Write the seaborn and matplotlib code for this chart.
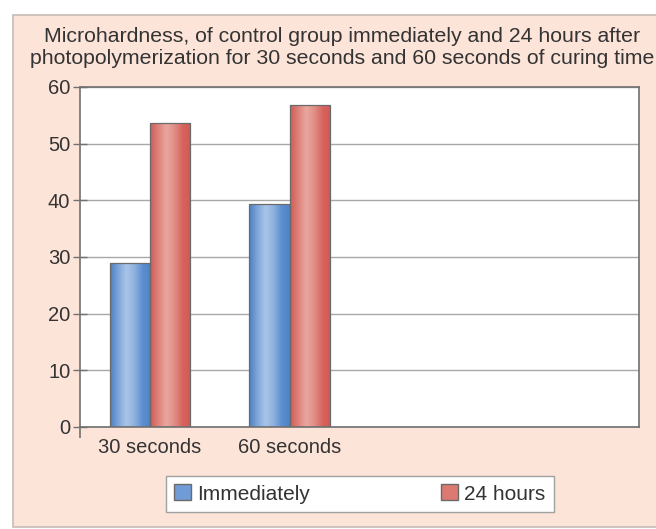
import numpy as np
import pandas as pd
import matplotlib
matplotlib.use("Agg")
import matplotlib.pyplot as plt
import seaborn as sns
from matplotlib.patches import Rectangle, Patch
from matplotlib.colors import LinearSegmentedColormap

# ---- data ----
categories = ["30 seconds", "60 seconds", " ", "  "]
series_names = ["Immediately", "24 hours"]
immediately = [28.9, 39.4]
hours24 = [53.6, 56.8]
title = ("Microhardness, of control group immediately and 24 hours after\n"
         "photopolymerization for 30 seconds and 60 seconds of curing time")
yticks = [0, 10, 20, 30, 40, 50, 60]

rows = []
for c, v in zip(categories[:2], immediately):
    rows.append({"cat": c, "series": series_names[0], "value": v})
for c, v in zip(categories[:2], hours24):
    rows.append({"cat": c, "series": series_names[1], "value": v})
df = pd.DataFrame(rows)

sns.set_theme(style="white")
plt.rcParams["font.family"] = ["Liberation Sans", "DejaVu Sans"]

W, H = 656, 529
fig = plt.figure(figsize=(W / 100, H / 100), dpi=100)
fig.patch.set_facecolor("white")

# peach frame
bg = Rectangle((13 / W, 2 / H), 1 - 13 / W + 0.01, (527 - 15) / H,
               transform=fig.transFigure, facecolor="#fde4d9",
               edgecolor="#c8bcb6", linewidth=1.2, zorder=-10)
fig.patches.append(bg)

ax = fig.add_axes([80 / W, 1 - 427 / H, (639 - 80) / W, (427 - 87) / H])
ax.set_zorder(1)
ax.set_facecolor("white")

blue = "#5d8fd0"
red = "#d8655d"
sns.barplot(data=df, x="cat", y="value", hue="series",
            order=categories, hue_order=series_names,
            palette=[blue, red], width=0.575, ax=ax,
            edgecolor="#6a6a6a", linewidth=0.9, saturation=1, legend=False)

cmaps = {
    blue: LinearSegmentedColormap.from_list("b", ["#4d80c2", "#7ea6da", "#a9c5e8", "#8fb2df", "#5d8fd0", "#4f83c6"]),
    red: LinearSegmentedColormap.from_list("r", ["#cf5c55", "#de837b", "#e9a79f", "#df8e86", "#d8655d", "#cf5a53"]),
}
grad = np.linspace(0, 1, 64).reshape(1, -1)
for cont, col in zip(ax.containers, [blue, red]):
    for p in cont:
        x0, y0 = p.get_x(), p.get_y()
        w, h = p.get_width(), p.get_height()
        if h == 0 or np.isnan(h):
            continue
        im = ax.imshow(grad, cmap=cmaps[col], aspect="auto",
                       extent=(x0, x0 + w, y0, y0 + h), zorder=2)
        im.set_clip_path(p)
        p.set_zorder(3)
        p.set_facecolor("none")

ax.set_xlim(-0.5, 3.5)
ax.set_ylim(0, 60)
ax.set_yticks(yticks)
ax.set_yticklabels([str(t) for t in yticks])
ax.set_xlabel("")
ax.set_ylabel("")
ax.yaxis.grid(True, color="#a8a8a8", linewidth=1.0)
ax.set_axisbelow(True)
for s in ax.spines.values():
    s.set_visible(True)
    s.set_color("#707070")
    s.set_linewidth(1.2)
ax.tick_params(axis="y", direction="inout", length=10, width=1.0, color="#707070",
               labelsize=14.5, labelcolor="#333333", pad=2, left=True)
ax.set_xticks([0, 1])
ax.set_xticklabels(categories[:2])
ax.set_xticks([-0.5], minor=True)
ax.tick_params(axis="x", which="major", length=0, labelsize=14.5,
               labelcolor="#333333", pad=8)
ax.tick_params(axis="x", which="minor", bottom=True, direction="out", length=8,
               width=1.2, color="#707070")

fig.text(0.522, 1 - 47 / H, title, ha="center", va="center", fontsize=15.3,
         color="#333333", linespacing=1.2)

# legend
handles = [Patch(facecolor="#6f9bd6", edgecolor="#6a6a6a"),
           Patch(facecolor="#dc7a72", edgecolor="#6a6a6a")]
leg = fig.legend(handles, series_names, loc="center",
                 bbox_to_anchor=(360 / W, 1 - 494 / H), ncol=2,
                 fontsize=15, frameon=True, fancybox=False, framealpha=1,
                 handlelength=0.8, handleheight=0.8, handletextpad=0.3,
                 columnspacing=6.3, borderpad=0.4)
leg.get_frame().set_edgecolor("#a0a0a0")
leg.get_frame().set_facecolor("white")
leg.get_frame().set_linewidth(1.0)
for t in leg.get_texts():
    t.set_color("#333333")

fig.savefig("out.png", dpi=100)
